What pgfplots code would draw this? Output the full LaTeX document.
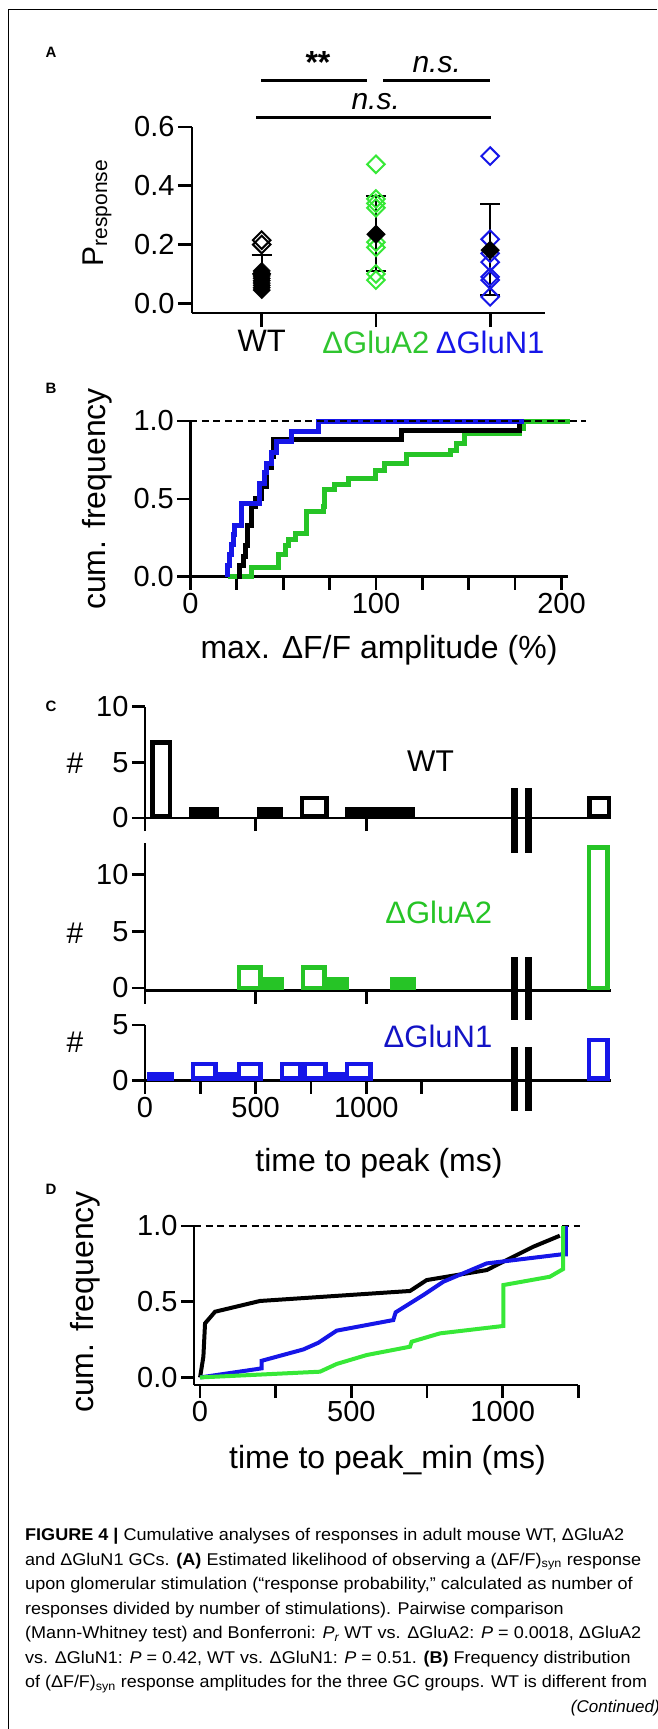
\documentclass[border=0pt]{standalone}
\usepackage{pgfplots}
\pgfplotsset{compat=1.18}
\usepackage{graphicx}
\usepackage{fontspec}
\setmainfont{Liberation Sans}

\definecolor{cblue}{RGB}{22,22,232}
\definecolor{cgreen}{RGB}{38,196,38}
\definecolor{lgreen}{RGB}{55,232,55}

\pgfplotsset{
  pnl/.style={
    scale only axis, clip=false,
    axis x line*=bottom, axis y line*=left,
    axis line style={-, line width=2.7pt},
    tick style={line width=2.7pt, black},
    tick align=outside,
    major tick length=13pt,
    ticklabel style={font=\fontsize{29}{29}\selectfont},
    /pgf/number format/assume math mode=true,
  },
  obar/.style={draw=#1, fill=white, line width=4.5pt, line join=miter},
  fbar/.style={draw=#1, fill=#1, line width=4.5pt, line join=miter},
  dmk/.style={only marks, mark=square, mark size=6.2pt,
    mark options={rotate=45, line width=2pt, solid}},
  fdmk/.style={only marks, mark=square*, mark size=6.6pt,
    mark options={rotate=45}},
  ebar/.style={black, line width=2pt},
}

\begin{document}
\begin{tikzpicture}
\useasboundingbox (0pt,0pt) rectangle (657pt,-1729pt);

% ---------- A ----------
\begin{axis}[pnl, at={(192pt,-313pt)}, anchor=south west,
  width=353pt, height=186pt,
  xmin=0.39, xmax=3.48, ymin=-0.033, ymax=0.6,
  xtick={1,2,3},
  xticklabels={WT,\textcolor{lgreen!85!black}{ΔGluA2},\textcolor{cblue}{ΔGluN1}},
  xticklabel style={font=\fontsize{31}{31}\selectfont},
  ytick={0,0.2,0.4,0.6}, yticklabels={0.0,0.2,0.4,0.6},
  major tick length=14pt]
\addplot[dmk, black] coordinates {(1,0.215) (1,0.2)};
\addplot[fdmk, mark size=6.2pt, black] coordinates {(1,0.045) (1,0.053) (1,0.061) (1,0.069)
  (1,0.077) (1,0.085) (1,0.093) (1,0.101) (1,0.11)};
\addplot[dmk, lgreen] coordinates {(2,0.473) (2,0.355) (2,0.34) (2,0.325) (2,0.208)
  (2,0.19) (2,0.1) (2,0.079)};
\addplot[dmk, cblue] coordinates {(3,0.501) (3,0.218) (3,0.17) (3,0.14) (3,0.09)
  (3,0.079) (3,0.022)};
% mean +- SD
\addplot[ebar] coordinates {(1,0.035) (1,0.165)};
\addplot[ebar] coordinates {(0.912,0.165) (1.088,0.165)};
\addplot[ebar] coordinates {(2,0.109) (2,0.364)};
\addplot[ebar] coordinates {(1.912,0.364) (2.088,0.364)};
\addplot[ebar] coordinates {(1.912,0.109) (2.088,0.109)};
\addplot[ebar] coordinates {(3,0.027) (3,0.337)};
\addplot[ebar] coordinates {(2.912,0.337) (3.088,0.337)};
\addplot[ebar] coordinates {(2.912,0.027) (3.088,0.027)};
\addplot[fdmk, black] coordinates {(1,0.1) (2,0.235) (3,0.181)};
\end{axis}

% ---------- B ----------
\begin{axis}[pnl, at={(190.4pt,-576.7pt)}, anchor=south west,
  width=378pt, height=155.7pt,
  xmin=0, xmax=203.7, ymin=0, ymax=1,
  xtick={0,25,...,200}, xticklabels={0,,,,100,,,,200},
  ytick={0,0.5,1}, yticklabels={0.0,0.5,1.0}]
\addplot[const plot, cgreen, line width=5pt] coordinates {(20,0) (33,0.06) (47.4,0.14)
  (51,0.2) (53,0.24) (56.4,0.28) (62.7,0.42) (71.6,0.45) (72.5,0.557) (77.9,0.589)
  (85.1,0.632) (99.5,0.685) (104.8,0.728) (116.5,0.782) (139.9,0.81) (143.5,0.857)
  (147.9,0.92) (177.6,0.953) (179.4,1.0) (204.6,1.0)};
\addplot[const plot, black, line width=5pt] coordinates {(25,0) (26.5,0.07) (28.5,0.13)
  (29.5,0.2) (31,0.33) (33,0.45) (35,0.5) (38.4,0.58) (41,0.7) (43.8,0.77) (44.7,0.88)
  (113.8,0.94) (177.6,1.0) (180,1.0)};
\addplot[const plot, cblue, line width=5pt] coordinates {(20,0) (20,0.07) (21,0.14)
  (22,0.21) (23,0.27) (24,0.33) (27.5,0.47) (37.5,0.6) (40,0.67) (41,0.73) (43.8,0.8)
  (46.5,0.87) (54.6,0.93) (69,1.0) (180,1.0)};
\draw[black, line width=2pt, dash pattern=on 7pt off 4.5pt] (axis cs:0,1) -- (axis cs:213,1);
\end{axis}

% ---------- C ----------
\begin{axis}[pnl, at={(145pt,-818pt)}, anchor=south west,
  width=466pt, height=111.3pt,
  xmin=0, xmax=2106, ymin=0, ymax=10,
  xtick={0,500,1000}, xticklabels={}, ytick={0,5,10}]
\addplot[obar=black] coordinates {(33,0.2) (33,6.8) (113,6.8) (113,0.2)} -- cycle;
\addplot[fbar=black] coordinates {(210,0.2) (210,0.8) (324,0.8) (324,0.2)} -- cycle;
\addplot[fbar=black] coordinates {(515,0.2) (515,0.8) (615,0.8) (615,0.2)} -- cycle;
\addplot[obar=black] coordinates {(710,0.2) (710,1.8) (821,1.8) (821,0.2)} -- cycle;
\addplot[fbar=black] coordinates {(914,0.2) (914,0.8) (1210,0.8) (1210,0.2)} -- cycle;
\addplot[obar=black] coordinates {(2009,0.2) (2009,1.8) (2096,1.8) (2096,0.2)} -- cycle;
\end{axis}

\begin{axis}[pnl, at={(145pt,-990.7pt)}, anchor=south west,
  width=466pt, height=147.4pt,
  xmin=0, xmax=2106, ymin=-0.24, ymax=12.76,
  xtick={0,500,1000}, xticklabels={}, ytick={0,5,10}]
\addplot[obar=cgreen] coordinates {(424,0) (424,1.8) (522,1.8) (522,0)} -- cycle;
\addplot[fbar=cgreen] coordinates {(542,0) (542,0.8) (618,0.8) (618,0)} -- cycle;
\addplot[obar=cgreen] coordinates {(715,0) (715,1.8) (811,1.8) (811,0)} -- cycle;
\addplot[fbar=cgreen] coordinates {(831,0) (831,0.8) (912,0.8) (912,0)} -- cycle;
\addplot[fbar=cgreen] coordinates {(1117,0) (1117,0.8) (1215,0.8) (1215,0)} -- cycle;
\addplot[obar=cgreen] coordinates {(2006,0) (2006,12.4) (2091,12.4) (2091,0)} -- cycle;
\end{axis}

\begin{axis}[pnl, at={(145pt,-1080.7pt)}, anchor=south west,
  width=466pt, height=55.7pt,
  xmin=0, xmax=2106, ymin=0, ymax=5,
  xtick={0,250,...,1250}, xticklabels={0,,500,,1000,}, ytick={0,5}]
\addplot[fbar=cblue] coordinates {(17,0.2) (17,0.55) (122,0.55) (122,0.2)} -- cycle;
\addplot[obar=cblue] coordinates {(218,0.2) (218,1.5) (318,1.5) (318,0.2)} -- cycle;
\addplot[fbar=cblue] coordinates {(338,0.2) (338,0.55) (404,0.55) (404,0.2)} -- cycle;
\addplot[obar=cblue] coordinates {(424,0.2) (424,1.5) (522,1.5) (522,0.2)} -- cycle;
\addplot[obar=cblue] coordinates {(620,0.2) (620,1.5) (701,1.5) (701,0.2)} -- cycle;
\addplot[obar=cblue] coordinates {(721,0.2) (721,1.5) (816,1.5) (816,0.2)} -- cycle;
\addplot[fbar=cblue] coordinates {(836,0.2) (836,0.55) (894,0.55) (894,0.2)} -- cycle;
\addplot[obar=cblue] coordinates {(914,0.2) (914,1.5) (1019,1.5) (1019,0.2)} -- cycle;
\addplot[obar=cblue] coordinates {(2006,0.2) (2006,3.66) (2091,3.66) (2091,0.2)} -- cycle;
\end{axis}

% ---------- D ----------
\begin{axis}[pnl, at={(194pt,-1385pt)}, anchor=south west,
  width=384.3pt, height=159pt,
  xmin=-20, xmax=1250, ymin=-0.05, ymax=1,
  xtick={0,250,...,1250}, xticklabels={0,,500,,1000,},
  ytick={0,0.5,1}, yticklabels={0.0,0.5,1.0}]
\draw[black, line width=2pt, dash pattern=on 7pt off 4.5pt] (axis cs:-20,1) -- (axis cs:1255,1);
\addplot[black, line width=4pt] coordinates {(0,0) (11,0.137) (16.5,0.357) (49.6,0.434)
  (198,0.505) (693.8,0.571) (748.9,0.643) (947,0.709) (1013,0.775) (1101,0.863) (1189,0.936)};
\addplot[cblue, line width=4pt] coordinates {(0,0) (203.7,0.06) (203.7,0.11) (341.4,0.185)
  (390.9,0.229) (451.5,0.309) (638.6,0.379) (646.4,0.43) (737.8,0.544) (803.8,0.632)
  (947,0.753) (1195,0.813) (1209,0.813) (1209,1.0)};
\addplot[lgreen, line width=4pt] coordinates {(0,0) (396.4,0.038) (451.5,0.089) (550.7,0.148)
  (693.8,0.203) (699.3,0.236) (792.9,0.291) (1002,0.34) (1002,0.61) (1156,0.665)
  (1200,0.716) (1200,1.0)};
\end{axis}

% ---------- labels, frame, caption ----------
\begin{scope}[x=1pt, y=-1pt]
\draw[line width=1.3pt] (8.4,1729) -- (8.4,9.3) -- (657,9.3);
\foreach \l/\yy in {A/52, B/388, C/706, D/1189}
  \node[font=\fontsize{15}{15}\selectfont\bfseries, inner sep=0] at (51,\yy) {\l};
% significance
\draw[line width=2.7pt] (261,80.7) -- (367,80.7);
\draw[line width=2.7pt] (383.3,80.7) -- (490.1,80.7);
\draw[line width=2.7pt] (256.4,117.7) -- (491,117.7);
\node[font=\fontsize{32}{32}\selectfont\bfseries, inner sep=0] at (318,62.5) {**};
\node[font=\fontsize{30}{30}\selectfont\itshape, inner sep=0, anchor=base] at (436.7,72) {n.s.};
\node[font=\fontsize{30}{30}\selectfont\itshape, inner sep=0, anchor=base] at (375.7,109) {n.s.};
\node[rotate=90, inner sep=0, font=\fontsize{30}{30}\selectfont] at (97,213) {P\textsubscript{response}};
% B labels
\node[rotate=90, inner sep=0, font=\fontsize{32}{32}\selectfont] at (97,499) {cum. frequency};
\node[anchor=base, inner sep=0, font=\fontsize{32}{32}\selectfont] at (379,658.3) {max. ΔF/F amplitude (\%)};
% C labels
\fill (511,788) rectangle (517.7,853);  \fill (525,788) rectangle (531.7,853);
\fill (511,957) rectangle (517.7,1020); \fill (525,957) rectangle (531.7,1020);
\fill (511,1047) rectangle (517.7,1111); \fill (525,1047) rectangle (531.7,1111);
\node[inner sep=0, font=\fontsize{30}{30}\selectfont] at (430.5,761) {WT};
\node[inner sep=0, font=\fontsize{31}{31}\selectfont, text=cgreen] at (438.8,912) {ΔGluA2};
\node[inner sep=0, font=\fontsize{31}{31}\selectfont, text=cblue!85!black] at (438,1036) {ΔGluN1};
\foreach \yy in {763, 933, 1042}
  \node[inner sep=0, font=\fontsize{30}{30}\selectfont] at (75,\yy) {\#};
\node[anchor=base, inner sep=0, font=\fontsize{32}{32}\selectfont] at (379,1171.7) {time to peak (ms)};
% D labels
\node[rotate=90, inner sep=0, font=\fontsize{32}{32}\selectfont] at (85,1302) {cum. frequency};
\node[anchor=base, inner sep=0, font=\fontsize{32}{32}\selectfont] at (387.5,1468.3) {time to peak\_min (ms)};
% caption
\begin{scope}[every node/.style={anchor=base west, inner sep=0, font=\fontsize{17}{17}\selectfont}]
\node at (25,1540.5) {\resizebox{599pt}{\height}{\textbf{FIGURE 4 \textbar} Cumulative analyses of responses in adult mouse WT, ΔGluA2}};
\node at (25,1565) {\resizebox{616pt}{\height}{and ΔGluN1 GCs. \textbf{(A)} Estimated likelihood of observing a (ΔF/F)\textsubscript{syn} response}};
\node at (25,1589.5) {\resizebox{607.6pt}{\height}{upon glomerular stimulation (“response probability,” calculated as number of}};
\node at (25,1614) {\resizebox{538.5pt}{\height}{responses divided by number of stimulations). Pairwise comparison}};
\node at (25,1638.5) {\resizebox{616pt}{\height}{(Mann-Whitney test) and Bonferroni: \textit{P\textsubscript{r}} WT vs. ΔGluA2: \textit{P} = 0.0018, ΔGluA2}};
\node at (25,1663) {\resizebox{605.5pt}{\height}{vs. ΔGluN1: \textit{P} = 0.42, WT vs. ΔGluN1: \textit{P} = 0.51. \textbf{(B)} Frequency distribution}};
\node at (25,1687.5) {\resizebox{622pt}{\height}{of (ΔF/F)\textsubscript{syn} response amplitudes for the three GC groups. WT is different from}};
\node[anchor=base east] at (660,1712) {\textit{(Continued)}};
\end{scope}
\end{scope}
\end{tikzpicture}
\end{document}
